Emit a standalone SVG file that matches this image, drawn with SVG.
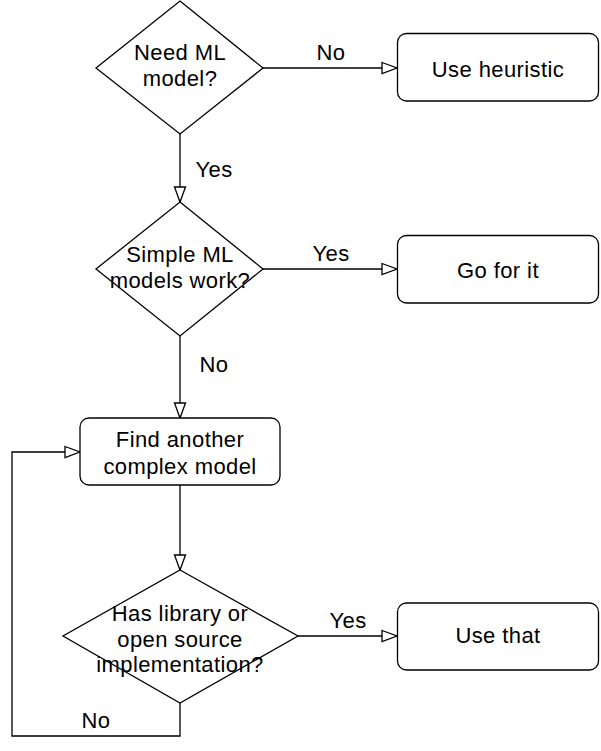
<svg xmlns="http://www.w3.org/2000/svg" width="601" height="751" viewBox="0 0 601 751">
<style>
.s{fill:#fff;stroke:#000;stroke-width:1.3}
.c{fill:none;stroke:#000;stroke-width:1.3}
text{font-family:"Liberation Sans",Arial,Helvetica,sans-serif;font-size:22px;letter-spacing:0.4px;fill:#000;text-anchor:middle}
</style>
<defs>
<marker id="a" markerWidth="18" markerHeight="14" refX="16" refY="7" orient="auto" markerUnits="userSpaceOnUse">
<path d="M1,1.5 L16,7 L1,12.5 Z" fill="#fff" stroke="#000" stroke-width="1.3"/>
</marker>
</defs>
<g id="connectors">
<path class="c" d="M263,68 H397" marker-end="url(#a)"/>
<path class="c" d="M180,134 V202" marker-end="url(#a)"/>
<path class="c" d="M263,269 H397" marker-end="url(#a)"/>
<path class="c" d="M180,336 V418" marker-end="url(#a)"/>
<path class="c" d="M180,485 V570" marker-end="url(#a)"/>
<path class="c" d="M298,636 H397" marker-end="url(#a)"/>
<path class="c" d="M180,703 V736 H12 V452 H80" marker-end="url(#a)"/>
<text x="331" y="60">No</text>
<text x="214" y="177">Yes</text>
<text x="331" y="261">Yes</text>
<text x="214" y="372">No</text>
<text x="348" y="628">Yes</text>
<text x="96" y="728">No</text>
</g>
<g id="need-ml">
<path class="s" d="M180,1 L263,68 L180,134 L96,68 Z"/>
<text x="180" y="60">Need ML</text>
<text x="180" y="86">model?</text>
</g>
<g id="use-heuristic">
<rect class="s" x="397.5" y="33.5" width="201" height="67.5" rx="9"/>
<text x="498" y="77">Use heuristic</text>
</g>
<g id="simple-ml">
<path class="s" d="M180,202 L263,269 L180,336 L96,269 Z"/>
<text x="180" y="262">Simple ML</text>
<text x="180" y="288">models work?</text>
</g>
<g id="go-for-it">
<rect class="s" x="397.5" y="235.5" width="201" height="67.5" rx="9"/>
<text x="498" y="278">Go for it</text>
</g>
<g id="find-another">
<rect class="s" x="80" y="418" width="200" height="67" rx="9"/>
<text x="180" y="447">Find another</text>
<text x="180" y="474">complex model</text>
</g>
<g id="has-library">
<path class="s" d="M180,570 L298,636 L180,703 L63,636 Z"/>
<text x="180" y="621">Has library or</text>
<text x="180" y="647">open source</text>
<text x="180" y="672">implementation?</text>
</g>
<g id="use-that">
<rect class="s" x="397.5" y="603" width="201" height="67" rx="9"/>
<text x="498" y="643">Use that</text>
</g>
</svg>
